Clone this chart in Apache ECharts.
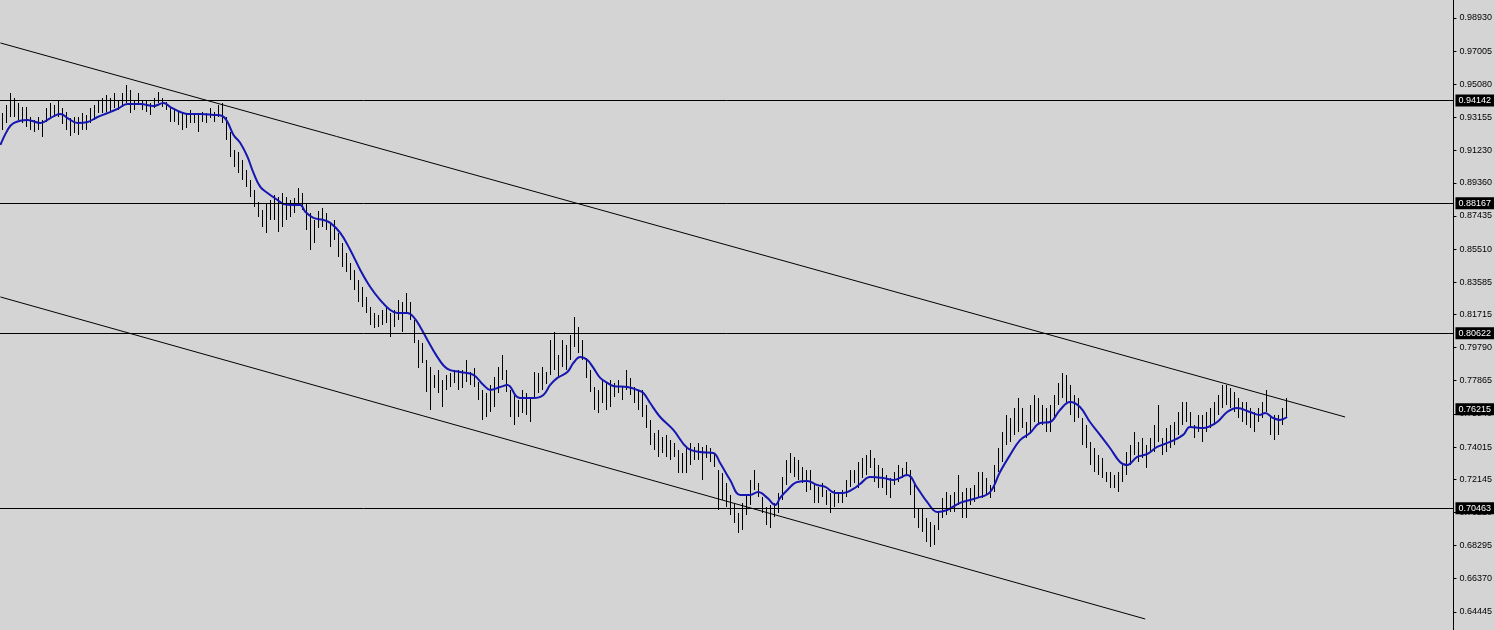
<!DOCTYPE html>
<html>
<head>
<meta charset="utf-8">
<title>Price chart</title>
<script src="https://cdn.jsdelivr.net/npm/echarts@6/dist/echarts.min.js"></script>
<style>
  html, body { margin: 0; padding: 0; background: #d4d4d4; }
  #chart { width: 1495px; height: 630px; }
</style>
</head>
<body>
<div id="chart"></div>
<script>
// bar highs / lows, one per bar
const highs = [
  0.9341, 0.9388, 0.9458, 0.9428, 0.9399, 0.9376, 0.9376, 0.9318, 0.9301, 0.9318,
  0.9301, 0.9370, 0.9399, 0.9388, 0.9411, 0.9370, 0.9347, 0.9312, 0.9318, 0.9318,
  0.9341, 0.9330, 0.9370, 0.9388, 0.9417, 0.9428, 0.9446, 0.9428, 0.9458, 0.9417,
  0.9458, 0.9504, 0.9475, 0.9417, 0.9458, 0.9417, 0.9417, 0.9399, 0.9428, 0.9463,
  0.9428, 0.9405, 0.9376, 0.9359, 0.9347, 0.9341, 0.9341, 0.9359, 0.9341, 0.9341,
  0.9347, 0.9341, 0.9370, 0.9347, 0.9388, 0.9399, 0.9318, 0.9231, 0.9127, 0.9115,
  0.9068, 0.9010, 0.8952, 0.8894, 0.8825, 0.8778, 0.8819, 0.8836, 0.8865, 0.8854,
  0.8877, 0.8854, 0.8836, 0.8848, 0.8906, 0.8877, 0.8819, 0.8761, 0.8720, 0.8772,
  0.8790, 0.8761, 0.8708, 0.8720, 0.8645, 0.8586, 0.8528, 0.8470, 0.8430, 0.8372,
  0.8331, 0.8273, 0.8215, 0.8180, 0.8168, 0.8197, 0.8215, 0.8180, 0.8197, 0.8255,
  0.8244, 0.8296, 0.8244, 0.8139, 0.8023, 0.8006, 0.7907, 0.7866, 0.7820, 0.7849,
  0.7791, 0.7820, 0.7832, 0.7849, 0.7849, 0.7849, 0.7907, 0.7837, 0.7861, 0.7779,
  0.7733, 0.7715, 0.7762, 0.7808, 0.7866, 0.7936, 0.7849, 0.7733, 0.7715, 0.7675,
  0.7733, 0.7715, 0.7692, 0.7837, 0.7832, 0.7866, 0.7837, 0.8023, 0.8070, 0.7936,
  0.8023, 0.7994, 0.8052, 0.8157, 0.8099, 0.8023, 0.7919, 0.7849, 0.7750, 0.7733,
  0.7791, 0.7779, 0.7791, 0.7774, 0.7791, 0.7750, 0.7849, 0.7803, 0.7750, 0.7733,
  0.7733, 0.7646, 0.7559, 0.7483, 0.7501, 0.7460, 0.7472, 0.7442, 0.7425, 0.7384,
  0.7367, 0.7402, 0.7425, 0.7402, 0.7425, 0.7402, 0.7413, 0.7396, 0.7367, 0.7268,
  0.7251, 0.7193, 0.7123, 0.7077, 0.7019, 0.7077, 0.7123, 0.7210, 0.7268, 0.7193,
  0.7111, 0.7053, 0.7065, 0.7077, 0.7135, 0.7228, 0.7326, 0.7367, 0.7344, 0.7326,
  0.7286, 0.7268, 0.7268, 0.7193, 0.7170, 0.7193, 0.7152, 0.7135, 0.7152, 0.7135,
  0.7152, 0.7210, 0.7268, 0.7268, 0.7315, 0.7338, 0.7355, 0.7384, 0.7338, 0.7297,
  0.7280, 0.7239, 0.7222, 0.7257, 0.7297, 0.7280, 0.7315, 0.7268, 0.7199, 0.7048,
  0.7048, 0.6990, 0.6966, 0.6949, 0.7024, 0.7106, 0.7140, 0.7123, 0.7140, 0.7239,
  0.7140, 0.7164, 0.7164, 0.7181, 0.7257, 0.7257, 0.7222, 0.7181, 0.7297, 0.7396,
  0.7489, 0.7588, 0.7570, 0.7628, 0.7686, 0.7628, 0.7547, 0.7646, 0.7704, 0.7686,
  0.7646, 0.7628, 0.7646, 0.7704, 0.7774, 0.7832, 0.7820, 0.7762, 0.7704, 0.7686,
  0.7570, 0.7530, 0.7431, 0.7396, 0.7355, 0.7338, 0.7257, 0.7257, 0.7239, 0.7257,
  0.7297, 0.7373, 0.7413, 0.7489, 0.7431, 0.7454, 0.7413, 0.7454, 0.7530, 0.7646,
  0.7454, 0.7512, 0.7530, 0.7547, 0.7605, 0.7663, 0.7663, 0.7605, 0.7530, 0.7588,
  0.7588, 0.7605, 0.7628, 0.7663, 0.7704, 0.7762, 0.7762, 0.7745, 0.7721, 0.7686,
  0.7663, 0.7663, 0.7628, 0.7605, 0.7628, 0.7663, 0.7733, 0.7588, 0.7588, 0.7588,
  0.7628, 0.7686
]
const lows = [
  0.9243, 0.9283, 0.9318, 0.9318, 0.9301, 0.9283, 0.9260, 0.9243, 0.9231, 0.9243,
  0.9202, 0.9289, 0.9318, 0.9318, 0.9318, 0.9277, 0.9243, 0.9208, 0.9225, 0.9214,
  0.9243, 0.9243, 0.9283, 0.9301, 0.9341, 0.9341, 0.9347, 0.9347, 0.9370, 0.9359,
  0.9376, 0.9399, 0.9341, 0.9359, 0.9388, 0.9359, 0.9347, 0.9330, 0.9370, 0.9399,
  0.9376, 0.9359, 0.9289, 0.9289, 0.9272, 0.9243, 0.9254, 0.9283, 0.9283, 0.9231,
  0.9289, 0.9283, 0.9312, 0.9289, 0.9318, 0.9283, 0.9185, 0.9086, 0.9028, 0.8993,
  0.8952, 0.8912, 0.8854, 0.8796, 0.8737, 0.8679, 0.8645, 0.8720, 0.8720, 0.8650,
  0.8679, 0.8720, 0.8737, 0.8761, 0.8807, 0.8778, 0.8662, 0.8546, 0.8586, 0.8674,
  0.8679, 0.8662, 0.8563, 0.8604, 0.8505, 0.8447, 0.8418, 0.8372, 0.8314, 0.8244,
  0.8215, 0.8180, 0.8110, 0.8093, 0.8099, 0.8110, 0.8122, 0.8041, 0.8099, 0.8139,
  0.8070, 0.8180, 0.8139, 0.8006, 0.7861, 0.7890, 0.7721, 0.7617, 0.7745, 0.7715,
  0.7634, 0.7733, 0.7750, 0.7774, 0.7733, 0.7745, 0.7779, 0.7762, 0.7750, 0.7675,
  0.7559, 0.7576, 0.7605, 0.7634, 0.7715, 0.7791, 0.7721, 0.7576, 0.7530, 0.7576,
  0.7599, 0.7588, 0.7547, 0.7692, 0.7715, 0.7733, 0.7768, 0.7820, 0.7849, 0.7808,
  0.7866, 0.7849, 0.7907, 0.7983, 0.7948, 0.7907, 0.7803, 0.7721, 0.7617, 0.7599,
  0.7657, 0.7617, 0.7634, 0.7692, 0.7715, 0.7675, 0.7733, 0.7704, 0.7657, 0.7617,
  0.7576, 0.7512, 0.7413, 0.7384, 0.7344, 0.7367, 0.7344, 0.7326, 0.7344, 0.7251,
  0.7251, 0.7251, 0.7297, 0.7326, 0.7326, 0.7210, 0.7338, 0.7315, 0.7286, 0.7036,
  0.7094, 0.7053, 0.7007, 0.6960, 0.6902, 0.6920, 0.7007, 0.7065, 0.7152, 0.7111,
  0.7019, 0.6949, 0.6931, 0.6995, 0.7019, 0.7094, 0.7181, 0.7251, 0.7228, 0.7210,
  0.7193, 0.7140, 0.7152, 0.7077, 0.7077, 0.7111, 0.7065, 0.7019, 0.7053, 0.7077,
  0.7077, 0.7111, 0.7170, 0.7193, 0.7164, 0.7222, 0.7239, 0.7280, 0.7199, 0.7164,
  0.7164, 0.7123, 0.7106, 0.7181, 0.7199, 0.7222, 0.7239, 0.7123, 0.6990, 0.6931,
  0.6908, 0.6850, 0.6821, 0.6833, 0.6920, 0.6990, 0.7007, 0.7024, 0.7024, 0.7065,
  0.6990, 0.6990, 0.7065, 0.7082, 0.7106, 0.7106, 0.7123, 0.7106, 0.7140, 0.7257,
  0.7315, 0.7413, 0.7431, 0.7472, 0.7489, 0.7512, 0.7454, 0.7489, 0.7547, 0.7530,
  0.7530, 0.7489, 0.7489, 0.7570, 0.7646, 0.7686, 0.7663, 0.7588, 0.7547, 0.7570,
  0.7413, 0.7396, 0.7297, 0.7257, 0.7239, 0.7222, 0.7199, 0.7164, 0.7164, 0.7140,
  0.7199, 0.7239, 0.7297, 0.7355, 0.7315, 0.7338, 0.7280, 0.7373, 0.7373, 0.7431,
  0.7355, 0.7373, 0.7396, 0.7413, 0.7472, 0.7530, 0.7547, 0.7512, 0.7454, 0.7489,
  0.7431, 0.7489, 0.7512, 0.7530, 0.7588, 0.7628, 0.7646, 0.7628, 0.7605, 0.7570,
  0.7547, 0.7530, 0.7512, 0.7489, 0.7547, 0.7570, 0.7605, 0.7472, 0.7442, 0.7472,
  0.7530, 0.7570
]

// moving average, sampled along the blue line: bar position and price
const maIndex = [
  -0.4, 1.4, 2.9, 6.4, 9.6, 12.1, 14.6, 16.4, 18.9, 21.4, 23.9, 26.4, 28.9, 31.4, 34.6, 37.9,
  40.4, 42.1, 44.6, 46.4, 49.6, 52.9, 55.1, 56.4, 57.9, 59.6, 61.4, 62.9, 64.6, 66.4, 68.9, 70.4,
  72.9, 74.6, 75.9, 77.9, 80.4, 82.1, 84.6, 87.1, 89.6, 92.1, 94.6, 97.1, 98.9, 101.4, 102.9, 104.6,
  106.4, 108.9, 111.4, 114.6, 117.9, 120.4, 122.1, 124.6, 126.4, 128.9, 130.4, 132.9, 135.4, 137.1,
  138.9, 141.4, 142.9, 144.6, 146.4, 147.9, 149.6, 151.4, 152.9, 156.4, 158.9, 160.4, 162.1, 164.6,
  167.9, 171.4, 174.6, 177.9, 179.6, 182.1, 184.6, 187.1, 189.1, 191.4, 193.4, 194.6, 196.4, 198.9,
  201.4, 203.9, 205.9, 208.4, 210.4, 212.9, 214.6, 217.1, 220.4, 222.9, 226.4, 228.9, 231.4, 233.9,
  236.4, 239.6, 243.9, 247.1, 249.6, 252.1, 254.6, 257.1, 259.6, 262.1, 264.6, 267.1, 269.6, 272.1,
  274.6, 277.1, 279.6, 281.4, 283.9, 286.4, 288.9, 292.1, 295.4, 297.1, 300.4, 303.9, 306.4, 308.9,
  312.1, 314.6, 315.9, 317.9, 319.6, 321.4
]
const maValues = [
  0.9156, 0.9243, 0.9283, 0.9301, 0.9283, 0.9312, 0.9336, 0.9312, 0.9283, 0.9289, 0.9318, 0.9341,
  0.9365, 0.9394, 0.9394, 0.9382, 0.9399, 0.9376, 0.9347, 0.9336, 0.9336, 0.9330, 0.9324, 0.9289,
  0.9214, 0.9167, 0.9086, 0.8993, 0.8912, 0.8877, 0.8836, 0.8813, 0.8807, 0.8807, 0.8766, 0.8732,
  0.8720, 0.8703, 0.8645, 0.8546, 0.8430, 0.8331, 0.8255, 0.8197, 0.8180, 0.8180, 0.8157, 0.8099,
  0.8023, 0.7924, 0.7855, 0.7837, 0.7820, 0.7762, 0.7733, 0.7750, 0.7762, 0.7692, 0.7686, 0.7686,
  0.7704, 0.7762, 0.7803, 0.7837, 0.7890, 0.7924, 0.7907, 0.7861, 0.7803, 0.7774, 0.7756, 0.7750,
  0.7733, 0.7715, 0.7657, 0.7576, 0.7501, 0.7396, 0.7373, 0.7367, 0.7309, 0.7210, 0.7123, 0.7123,
  0.7140, 0.7106, 0.7065, 0.7106, 0.7152, 0.7199, 0.7204, 0.7181, 0.7170, 0.7135, 0.7135, 0.7158,
  0.7187, 0.7228, 0.7222, 0.7210, 0.7239, 0.7164, 0.7082, 0.7024, 0.7036, 0.7077, 0.7106, 0.7140,
  0.7257, 0.7355, 0.7442, 0.7483, 0.7541, 0.7547, 0.7617, 0.7663, 0.7634, 0.7547, 0.7472, 0.7396,
  0.7315, 0.7297, 0.7344, 0.7361, 0.7402, 0.7431, 0.7472, 0.7518, 0.7512, 0.7547, 0.7605, 0.7628,
  0.7605, 0.7588, 0.7599, 0.7570, 0.7559, 0.7576
]

// price axis ticks as printed on the right scale
const tickValues = [
  0.98930, 0.97005, 0.95080, 0.93155, 0.91230, 0.89360, 0.87435, 0.85510, 0.83585, 0.81715,
  0.79790, 0.77865, 0.75940, 0.74015, 0.72145, 0.70220, 0.68295, 0.66370, 0.64445
]
// horizontal levels and the current price tag
const levels = [0.94142, 0.88167, 0.80622, 0.70463]
const currentPrice = 0.76215
// trend lines: [bar position, price] at both ends
const upperTrend = [[-0.4, 0.9748], [335.9, 0.7576]]
const lowerTrend = [[-0.4, 0.8273], [285.9, 0.6403]]

const tagLabel = {
  show : true,
  position : 'end',
  distance : 2,
  color : '#fff',
  backgroundColor : '#000',
  padding : [2, 3, 1, 3],
  fontFamily : 'Liberation Sans',
  fontSize : 9,
  formatter : p => p.value.toFixed( 5 )
}

const chart = echarts.init( document.getElementById( 'chart' ) )
chart.setOption( {
  backgroundColor : '#d4d4d4',
  animation : false,
  grid : { left : 0, top : 0, right : 41, bottom : 0 },
  xAxis : {
    type : 'value',
    min : -0.5,
    max : 363,
    show : false
  },
  yAxis : {
    type : 'value',
    position : 'right',
    min : 0.63390,
    max : 0.99975,
    splitLine : { show : false },
    axisLine : { show : true, onZero : false, lineStyle : { color : '#000', width : 1 } },
    axisTick : {
      show : true,
      length : 3,
      customValues : tickValues,
      lineStyle : { color : '#000' }
    },
    axisLabel : {
      customValues : tickValues,
      color : '#000',
      fontFamily : 'Liberation Sans',
      fontSize : 9,
      margin : 6,
      formatter : v => v.toFixed( 5 )
    }
  },
  series : [
    {
      name : 'bars',
      type : 'custom',
      data : highs.map( ( h, i ) => [i, h, lows[i]] ),
      encode : { x : 0, y : [1, 2] },
      renderItem : ( params, api ) => {
        const top = api.coord( [api.value( 0 ), api.value( 1 )] )
        const bottom = api.coord( [api.value( 0 ), api.value( 2 )] )
        const x = Math.round( top[0] ) + 0.5
        return {
          type : 'line',
          shape : { x1 : x, y1 : Math.round( top[1] ), x2 : x, y2 : Math.round( bottom[1] ) },
          style : { stroke : '#000', lineWidth : 1 }
        }
      }
    },
    {
      name : 'MA',
      type : 'line',
      data : maIndex.map( ( x, i ) => [x, maValues[i]] ),
      smooth : 0.4,
      symbol : 'none',
      z : 3,
      lineStyle : { color : '#1616b0', width : 2 },
      markLine : {
        silent : true,
        symbol : 'none',
        precision : 5,
        animation : false,
        lineStyle : { color : '#000', width : 1, type : 'solid' },
        label : { show : false },
        data : [
          ...levels.map( v => ( { yAxis : v, label : tagLabel } ) ),
          { yAxis : currentPrice, label : tagLabel, lineStyle : { color : 'rgba(0,0,0,0)' } },
          [{ coord : upperTrend[0] }, { coord : upperTrend[1] }],
          [{ coord : lowerTrend[0] }, { coord : lowerTrend[1] }]
        ]
      }
    }
  ]
} )
</script>
</body>
</html>
